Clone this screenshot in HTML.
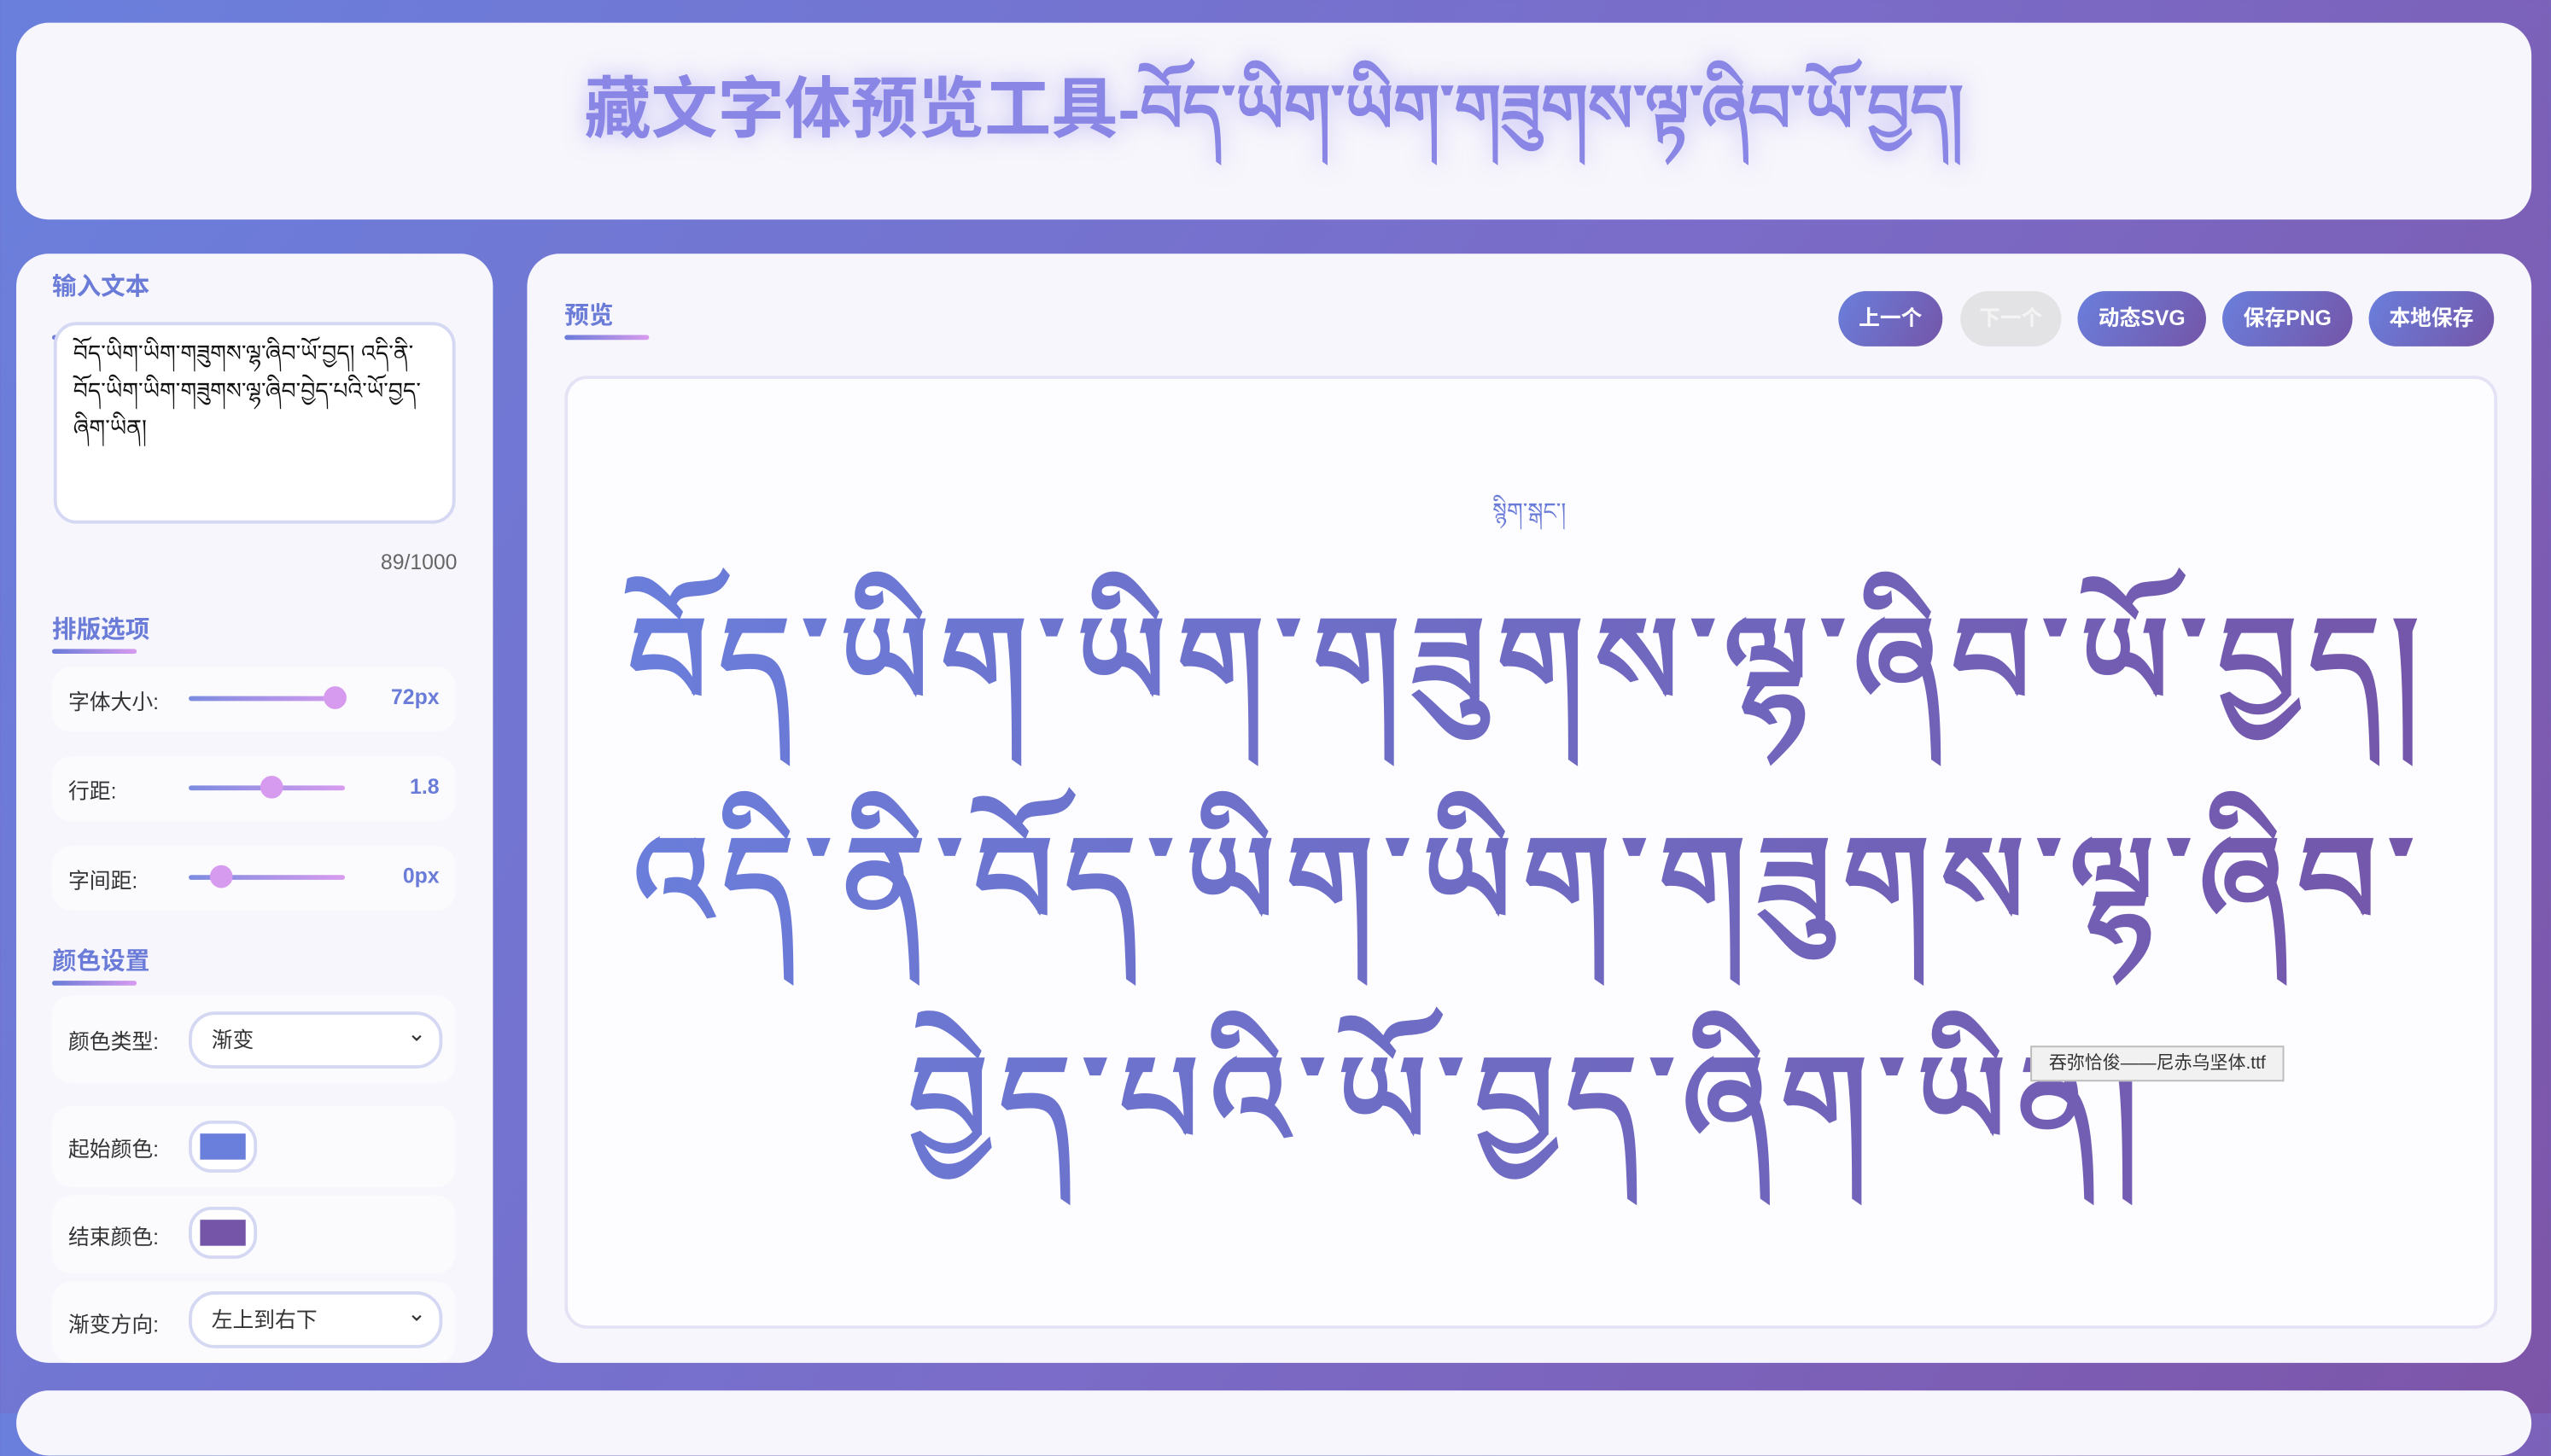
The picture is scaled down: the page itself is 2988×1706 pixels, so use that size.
<!DOCTYPE html>
<html><head><meta charset="utf-8"><style>
html,body{margin:0;padding:0;width:2988px;height:1656px;overflow:hidden}
body{background:linear-gradient(120deg,#6a7fdc 0%,#7a6cc8 55%,#7d55a8 100%);font-family:"Liberation Sans","Noto Sans CJK SC",sans-serif}
#wrap{position:absolute;left:0;top:0;width:1568px;height:869px;transform:scale(1.9056);transform-origin:0 0}
.card{position:absolute;background:#f7f6fc;border-radius:20px}
.h{position:absolute;font-size:15px;font-weight:bold;color:#6a7bd8}
.ul{position:absolute;height:3px;width:52px;border-radius:2px;background:linear-gradient(90deg,#6a7bd8,#d79bef)}
.row{position:absolute;left:32px;width:248px;background:#fbfbfe;border-radius:12px}
.lbl{position:absolute;left:10px;font-size:13px;color:#333}
.track{position:absolute;height:3px;border-radius:2px;background:linear-gradient(90deg,#7b8be0,#d79bef)}
.knob{position:absolute;width:14px;height:14px;border-radius:50%;background:#d69bee}
.val{position:absolute;right:10px;font-size:13px;font-weight:bold;color:#6a7bd8}
.sel{position:absolute;left:84px;width:152px;height:31px;border:2px solid #d5d8f3;border-radius:16px;background:#fff;font-size:13px;color:#333;line-height:31px;text-indent:12px}
.sel:after{content:"⌄";position:absolute;right:8px;top:-4px;font-size:14px}
.sw{position:absolute;left:84px;width:38px;height:28px;border:2px solid #d5d8f3;border-radius:14px;background:#fff}
.sw i{position:absolute;left:5px;top:6px;width:28px;height:16px}
.btn{position:absolute;top:179px;height:34px;border-radius:17px;background:linear-gradient(120deg,#6a7fdc,#7455a8);color:#fff;font-size:13px;font-weight:bold;text-align:center;line-height:34px}
.tib{position:absolute;left:347px;width:1186px;text-align:center;font-size:76px;letter-spacing:7px;font-weight:bold;background:linear-gradient(90deg,#6a7fdc,#7455a8);-webkit-background-clip:text;background-clip:text;color:transparent;white-space:nowrap}
</style></head><body>
<div id="wrap">
<div class="card" style="left:10px;top:14px;width:1546px;height:121px">
 <div style="position:absolute;left:0;right:0;top:8px;text-align:center;font-size:41px;font-weight:bold;color:#8a86e6;text-shadow:0 0 14px rgba(140,130,240,.5)">藏文字体预览工具-བོད་ཡིག་ཡིག་གཟུགས་ལྟ་ཞིབ་ཡོ་བྱད།</div>
</div>

<div class="card" style="left:10px;top:156px;width:293px;height:682px">
</div>
<div class="h" style="left:32px;top:165px">输入文本</div>
<div class="ul" style="left:32px;top:206px"></div>
<div style="position:absolute;left:33px;top:198px;width:247px;height:124px;border:2px solid #d5d8f3;border-radius:14px;background:#fff;font-size:14px;line-height:23px;padding:6px 10px;box-sizing:border-box;color:#111">བོད་ཡིག་ཡིག་གཟུགས་ལྷ་ཞིབ་ཡོ་བྱད། འདི་ནི་ བོད་ཡིག་ཡིག་གཟུགས་ལྷ་ཞིབ་བྱེད་པའི་ཡོ་བྱད་ ཞིག་ཡིན།</div>
<div style="position:absolute;right:1287px;top:338px;font-size:13px;color:#666">89/1000</div>
<div class="h" style="left:32px;top:376px">排版选项</div>
<div class="ul" style="left:32px;top:399px"></div>

<div class="row" style="top:410px;height:40px">
 <div class="lbl" style="top:11px">字体大小:</div><div class="track" style="left:84px;width:96px;top:18px"></div><div class="knob" style="left:167px;top:12px"></div><div class="val" style="top:11px">72px</div></div>
<div class="row" style="top:465px;height:40px">
 <div class="lbl" style="top:11px">行距:</div><div class="track" style="left:84px;width:96px;top:18px"></div><div class="knob" style="left:128px;top:12px"></div><div class="val" style="top:11px">1.8</div></div>
<div class="row" style="top:520px;height:40px">
 <div class="lbl" style="top:11px">字间距:</div><div class="track" style="left:84px;width:96px;top:18px"></div><div class="knob" style="left:97px;top:12px"></div><div class="val" style="top:11px">0px</div></div>

<div class="h" style="left:32px;top:580px">颜色设置</div>
<div class="ul" style="left:32px;top:603px"></div>
<div class="row" style="top:612px;height:54px"><div class="lbl" style="top:18px">颜色类型:</div><div class="sel" style="top:10px">渐变</div></div>
<div class="row" style="top:680px;height:50px"><div class="lbl" style="top:16px">起始颜色:</div><div class="sw" style="top:9px"><i style="background:#6a7fdc"></i></div></div>
<div class="row" style="top:735px;height:48px"><div class="lbl" style="top:15px">结束颜色:</div><div class="sw" style="top:7px"><i style="background:#7455a8"></i></div></div>
<div class="row" style="top:788px;height:50px"><div class="lbl" style="top:16px">渐变方向:</div><div class="sel" style="top:6px">左上到右下</div></div>

<div class="card" style="left:324px;top:156px;width:1232px;height:682px"></div>
<div class="h" style="left:347px;top:183px">预览</div>
<div class="ul" style="left:347px;top:206px"></div>
<div class="btn" style="left:1130px;width:64px">上一个</div>
<div class="btn" style="left:1205px;width:62px;background:#e3e3e6;color:#f4f4f4">下一个</div>
<div class="btn" style="left:1277px;width:79px">动态SVG</div>
<div class="btn" style="left:1366px;width:80px">保存PNG</div>
<div class="btn" style="left:1456px;width:77px">本地保存</div>

<div style="position:absolute;left:347px;top:231px;width:1184px;height:582px;border:2px solid #e4e3f5;border-radius:14px;background:#fdfcff"></div>
<div style="position:absolute;left:347px;width:1186px;top:298px;text-align:center;font-size:14px;color:#6a7bd8">སྙིག་སྒང་།</div>
<div class="tib" style="top:322px">བོད་ཡིག་ཡིག་གཟུགས་ལྷ་ཞིབ་ཡོ་བྱད།</div>
<div class="tib" style="top:457px">འདི་ནི་བོད་ཡིག་ཡིག་གཟུགས་ལྷ་ཞིབ་</div>
<div class="tib" style="top:592px">བྱེད་པའི་ཡོ་བྱད་ཞིག་ཡིན།</div>
<div style="position:absolute;left:1248px;top:643px;width:154px;height:20px;background:#f1f1f1;border:1px solid #bbb;font-size:11px;line-height:20px;text-align:center;color:#333">吞弥恰俊——尼赤乌坚体.ttf</div>

<div class="card" style="left:10px;top:855px;width:1546px;height:40px"></div>
</div>
</body></html>
